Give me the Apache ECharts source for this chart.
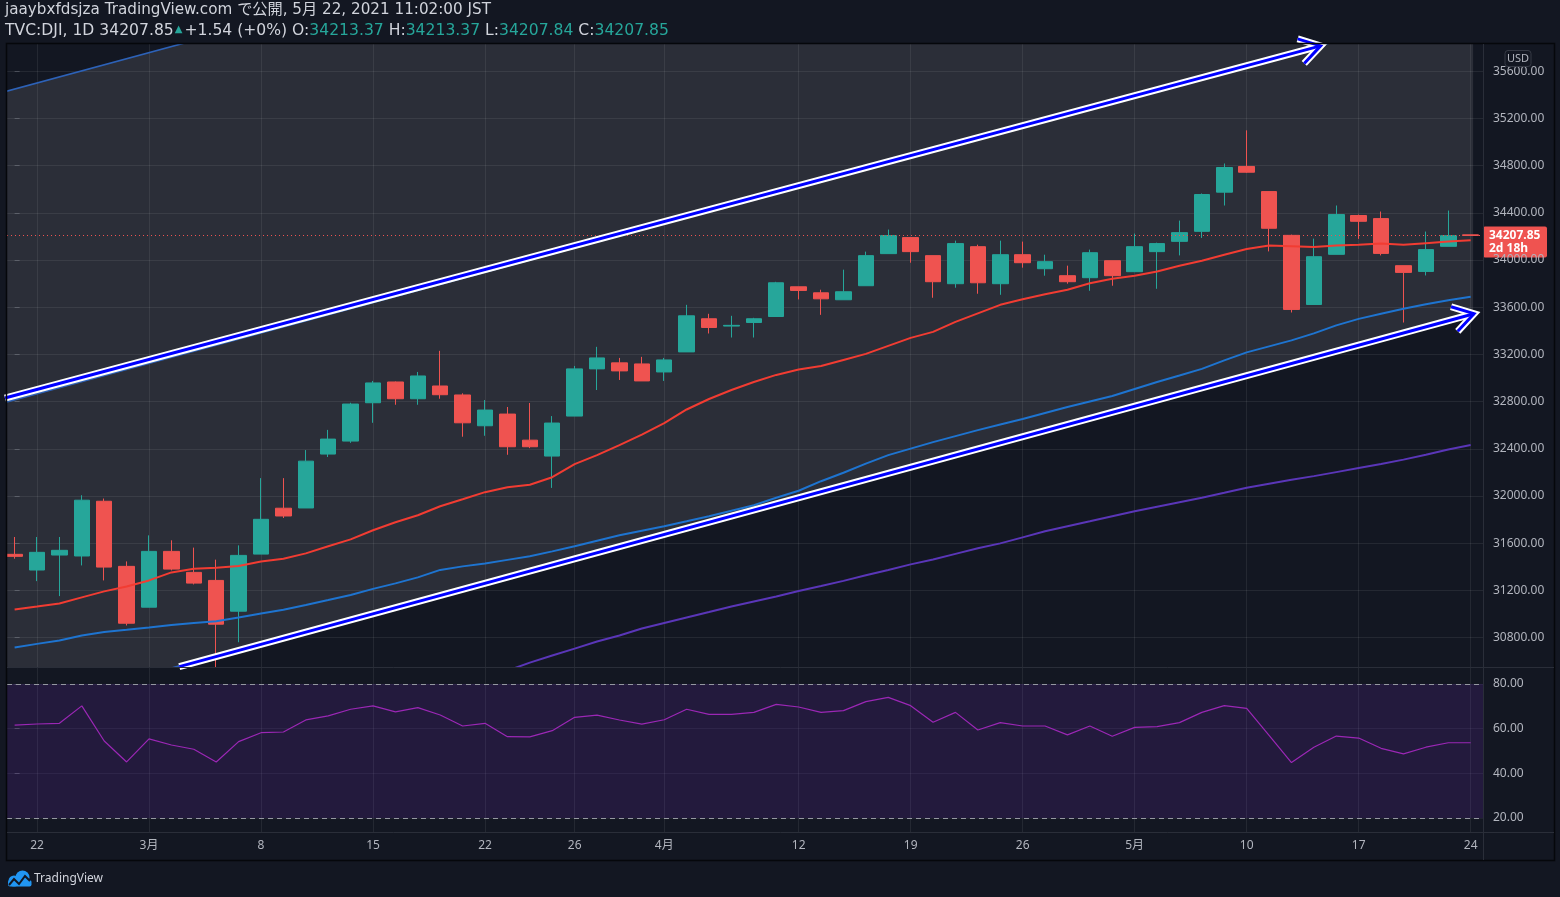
<!DOCTYPE html>
<html><head><meta charset="utf-8">
<script src="https://cdn.jsdelivr.net/npm/echarts@6/dist/echarts.min.js"></script>
<style>html,body{margin:0;padding:0;background:#131722;}#c{width:1560px;height:897px;}</style>
</head><body><div id="c"></div>
<script>
// ---------------- DATA ----------------
const dates = ['02-19','02-22','02-23','02-24','02-25','02-26','03-01','03-02','03-03','03-04','03-05','03-08','03-09','03-10','03-11','03-12','03-15','03-16','03-17','03-18','03-19','03-22','03-23','03-24','03-25','03-26','03-29','03-30','03-31','04-01','04-05','04-06','04-07','04-08','04-09','04-12','04-13','04-14','04-15','04-16','04-19','04-20','04-21','04-22','04-23','04-26','04-27','04-28','04-29','04-30','05-03','05-04','05-05','05-06','05-07','05-10','05-11','05-12','05-13','05-14','05-17','05-18','05-19','05-20','05-21','05-24'];
const opens  = [31505,31372,31499,31491,31955,31403,31057,31530,31352,31284,31023,31507,31896,31898,32355,32465,32790,32966,32824,32932,32856,32595,32694,32473,32338,32677,33077,33128,33119,33051,33221,33502,33440,33470,33521,33773,33722,33663,33782,34054,34190,34037,33799,34113,33799,34045,33926,33867,33850,33994,33901,34071,34158,34243,34575,34793,34580,34209,33623,34048,34377,34351,33952,33903,34116,34213.37];
const highs  = [31652,31652,31652,32006,31978,31445,31666,31624,31562,31460,31581,32151,32151,32389,32560,32790,32975,32970,33051,33230,32870,32813,32754,32788,32677,33102,33264,33170,33179,33170,33620,33544,33527,33510,33815,33773,33748,33918,34071,34258,34190,34037,34164,34130,34164,34156,34045,33952,34088,33994,34224,34147,34334,34564,34818,35099,34580,34215,34181,34462,34385,34411,33952,34241,34419,34213.37];
const lows   = [31468,31278,31151,31411,31284,30902,31057,31369,31250,30547,30760,31507,31813,31898,32330,32450,32620,32773,32773,32824,32502,32510,32349,32405,32068,32677,32898,32983,32975,32975,33221,33377,33343,33343,33521,33666,33535,33663,33782,34054,33977,33680,33765,33714,33705,33935,33867,33799,33739,33782,33901,33756,34039,34187,34462,34739,34073,33555,33623,34048,34179,34039,33470,33869,34116,34207.84];
const closes = [31488,31522,31539,31964,31397,30921,31530,31380,31261,30913,31496,31802,31830,32295,32482,32779,32958,32824,33017,32858,32620,32728,32417,32417,32618,33077,33170,33060,32975,33153,33527,33428,33446,33502,33807,33742,33671,33731,34037,34207,34071,33816,34139,33807,34045,33977,33986,33816,34062,33867,34113,34139,34232,34555,34784,34744,34269,33581,34028,34385,34328,34056,33895,34088,34206.31,34207.85];
const ma20 = [31038,31063,31089,31140,31191,31233,31284,31352,31382,31392,31407,31445,31468,31513,31573,31632,31709,31777,31836,31913,31972,32032,32074,32095,32159,32270,32346,32431,32520,32618,32733,32822,32898,32966,33026,33072,33102,33153,33204,33272,33340,33391,33476,33548,33620,33667,33710,33748,33803,33841,33867,33903,33952,33994,34045,34094,34122,34116,34110,34122,34130,34139,34130,34143,34156,34167];
const ma50 = [30715,30746,30774,30817,30847,30865,30885,30906,30923,30937,30970,31004,31035,31076,31118,31161,31212,31259,31310,31373,31403,31428,31458,31488,31530,31573,31620,31666,31705,31743,31785,31828,31875,31921,31985,32044,32125,32197,32274,32346,32401,32456,32507,32558,32605,32652,32703,32754,32801,32847,32907,32966,33021,33077,33149,33217,33268,33319,33378,33446,33501,33544,33586,33625,33659,33688];
const ma200 = [null,null,null,null,null,null,null,null,null,null,null,null,null,null,null,null,null,null,null,null,null,null,30519,30587,30647,30706,30766,30817,30876,30923,30970,31016,31063,31106,31148,31195,31237,31280,31327,31373,31420,31462,31509,31556,31598,31649,31700,31743,31785,31828,31870,31909,31947,31985,32027,32070,32104,32138,32168,32202,32236,32270,32308,32350,32393,32431];
const rsi = [61.6,62.1,62.4,70.2,54.5,45.1,55.4,52.7,50.8,45.1,54.2,58.2,58.5,63.9,65.7,68.7,70.2,67.5,69.4,66.1,61.2,62.4,56.4,56.3,59.1,65.1,66.1,63.9,62.0,64.0,68.7,66.4,66.4,67.3,70.9,69.7,67.3,68.1,72.1,74.0,70.3,62.9,67.3,59.4,62.7,61.2,61.2,57.2,61.2,56.6,60.6,60.9,62.7,67.3,70.3,69.1,57.0,44.8,51.7,56.7,55.8,51.2,48.7,51.7,53.7,53.7];
const xTickIdx = [1,6,11,16,21,25,29,35,40,45,50,55,60,65];
const xTickLabels = ['22','3月','8','15','22','26','4月','12','19','26','5月','10','17','24'];
const priceTicks = [30800,31200,31600,32000,32400,32800,33200,33600,34000,34400,34800,35200,35600];
const rsiTicks = [20,40,60,80];
const rsiBand = [20,80];
// parallel channel (bar index, price)
const channelX = [-1, 65.11];
const channelLower = [30129, 33535];
const channelMiddle = [32763, 36169];
const channelUpper = [35397, 38803];
// arrows (bar index, price)
const arrowUpX = [-0.43, 58.3], arrowUpY = [32830, 35815];
const arrowLowX = [7.35, 65.15],  arrowLowY = [30553, 33545];
const lastPrice = 34207.85;

// ---------------- CHART ----------------
const FONT = "'Noto Sans', 'Noto Sans CJK JP', sans-serif";
const HFONT = "'DejaVu Sans', 'Noto Sans CJK JP', sans-serif";
const GRID = 'rgba(255,255,255,0.075)';
const X_MIN = -0.34, X_MAX = 65.55;
const chart = echarts.init(document.getElementById('c'), null, {width:1560, height:897});

const candleData = dates.map((d,i)=>[i, opens[i], closes[i], lows[i], highs[i]]);
const toXY = arr => arr.map((v,i)=>[i, v]);

function arrowHead(tip, from, len, ang){
  const dx = from[0]-tip[0], dy = from[1]-tip[1], d = Math.hypot(dx,dy);
  const ux = dx/d, uy = dy/d, a = ang*Math.PI/180;
  const r = s => [tip[0] + len*(ux*Math.cos(s) - uy*Math.sin(s)), tip[1] + len*(ux*Math.sin(s) + uy*Math.cos(s))];
  return [r(a), tip, r(-a)];
}
function arrowEls(p0, p1){
  const head = arrowHead(p1, p0, 24, 32);
  const out = [];
  [['#ffffff',7],['#0000ff',3]].forEach(([c,w])=>{
    out.push({type:'line', shape:{x1:p0[0],y1:p0[1],x2:p1[0],y2:p1[1]}, style:{stroke:c, lineWidth:w}});
    out.push({type:'polyline', shape:{points:head}, style:{stroke:c, lineWidth:w, fill:null, lineJoin:'miter'}});
  });
  return out;
}

const option = {
  backgroundColor:'#131722',
  animation:false,
  grid:[{left:7, top:44, width:1476, height:623},{left:7, top:668, width:1476, height:164}],
  xAxis:[
    {type:'value', gridIndex:0, min:X_MIN, max:X_MAX, axisLine:{show:false},
     axisTick:{show:false, customValues:xTickIdx}, axisLabel:{show:false, customValues:xTickIdx},
     splitLine:{show:true, lineStyle:{color:GRID}}},
    {type:'value', gridIndex:1, min:X_MIN, max:X_MAX, axisLine:{show:false},
     axisTick:{show:false, customValues:xTickIdx},
     axisLabel:{show:true, customValues:xTickIdx, margin:8, color:'#b2b5be', fontSize:12, fontFamily:FONT,
       formatter:v=>xTickLabels[xTickIdx.indexOf(Math.round(v))] || ''},
     splitLine:{show:true, lineStyle:{color:GRID}}}
  ],
  yAxis:[
    {type:'value', gridIndex:0, position:'right', min:30550, max:35831, axisLine:{show:false},
     axisTick:{show:true, customValues:priceTicks, length:5, lineStyle:{color:'#4a4e59'}},
     axisLabel:{customValues:priceTicks, margin:10, color:'#b2b5be', fontSize:12, fontFamily:FONT, formatter:v=>v.toFixed(2)},
     splitLine:{show:true, lineStyle:{color:GRID}}},
    {type:'value', gridIndex:1, position:'right', min:13.73, max:87.17, axisLine:{show:false},
     axisTick:{show:true, customValues:rsiTicks, length:5, lineStyle:{color:'#4a4e59'}},
     axisLabel:{customValues:rsiTicks, margin:10, color:'#b2b5be', fontSize:12, fontFamily:FONT, formatter:v=>v.toFixed(2)},
     splitLine:{show:true, lineStyle:{color:'rgba(255,255,255,0.06)'}}}
  ],
  series:[
    {type:'custom', name:'channel', xAxisIndex:0, yAxisIndex:0, z:1, silent:true, clip:true, data:[[0,33000]],
     renderItem:(params, api)=>{
       const P = (x,y)=>api.coord([x,y]);
       const l0=P(channelX[0],channelLower[0]), l1=P(channelX[1],channelLower[1]);
       const m0=P(channelX[0],channelMiddle[0]), m1=P(channelX[1],channelMiddle[1]);
       const u0=P(channelX[0],channelUpper[0]), u1=P(channelX[1],channelUpper[1]);
       const ln=(a,b)=>({type:'line', shape:{x1:a[0],y1:a[1],x2:b[0],y2:b[1]}, style:{stroke:'#2d62b8', lineWidth:1.6}});
       const cs = params.coordSys;
       return {type:'group', clipPath:{type:'rect', shape:{x:cs.x, y:cs.y, width:cs.width, height:cs.height}}, children:[
         {type:'polygon', shape:{points:[l0,l1,u1,u0]}, style:{fill:'rgba(255,255,255,0.10)'}},
         ln(l0,l1), ln(m0,m1), ln(u0,u1)
       ]};
     }},
    {type:'candlestick', name:'DJI', xAxisIndex:0, yAxisIndex:0, z:3, data:candleData, barWidth:16,
     itemStyle:{color:'#26a69a', color0:'#ef5350', borderColor:'#26a69a', borderColor0:'#ef5350', borderColorDoji:'#ef5350', borderWidth:1},
     markLine:{silent:true, symbol:'none', label:{show:false}, lineStyle:{color:'#ef5350', type:[1,3], width:1},
       data:[{yAxis:lastPrice}]}},
    {type:'line', name:'MA20', xAxisIndex:0, yAxisIndex:0, z:4, data:toXY(ma20), showSymbol:false, lineStyle:{color:'#f23c32', width:2}},
    {type:'line', name:'MA50', xAxisIndex:0, yAxisIndex:0, z:4, data:toXY(ma50), showSymbol:false, lineStyle:{color:'#1e74d0', width:2}},
    {type:'line', name:'MA200', xAxisIndex:0, yAxisIndex:0, z:4, data:toXY(ma200), showSymbol:false, lineStyle:{color:'#5a36b8', width:2}},
    {type:'custom', name:'arrows', xAxisIndex:0, yAxisIndex:0, z:6, silent:true, clip:false, data:[[0,33000]],
     renderItem:(params, api)=>{
       const a0=api.coord([arrowUpX[0],arrowUpY[0]]), a1=api.coord([arrowUpX[1],arrowUpY[1]]);
       const b0=api.coord([arrowLowX[0],arrowLowY[0]]), b1=api.coord([arrowLowX[1],arrowLowY[1]]);
       return {type:'group', children:[...arrowEls(a0,a1), ...arrowEls(b0,b1)]};
     }},
    {type:'line', name:'RSI', xAxisIndex:1, yAxisIndex:1, z:4, data:toXY(rsi), showSymbol:false, lineStyle:{color:'#9b27b5', width:1.2},
     markArea:{silent:true, itemStyle:{color:'rgba(126,50,220,0.15)'}, data:[[{yAxis:rsiBand[0]},{yAxis:rsiBand[1]}]]},
     markLine:{silent:true, symbol:'none', label:{show:false}, lineStyle:{color:'#9598a1', type:[5,4], width:1},
       data:[{yAxis:rsiBand[1]},{yAxis:rsiBand[0]}]}}
  ]
};
chart.setOption(option);

const yTag = chart.convertToPixel({yAxisIndex:0}, lastPrice);
const T = '#d1d4dc', G = '#26a69a';
chart.setOption({graphic:[
  {type:'rect', z:50, silent:true, shape:{x:6.5, y:43.5, width:1548, height:817}, style:{fill:null, stroke:'#05070b', lineWidth:1.5}},
  {type:'line', z:50, silent:true, shape:{x1:7, y1:667.5, x2:1554, y2:667.5}, style:{stroke:'#2a2e39', lineWidth:1}},
  {type:'line', z:50, silent:true, shape:{x1:7, y1:832.5, x2:1554, y2:832.5}, style:{stroke:'#2a2e39', lineWidth:1}},
  {type:'line', z:50, silent:true, shape:{x1:1483.5, y1:44, x2:1483.5, y2:860}, style:{stroke:'#2a2e39', lineWidth:1}},
  {type:'text', z:60, x:5, y:10, style:{text:'jaaybxfdsjza TradingView.com で公開, 5月 22, 2021 11:02:00 JST', fill:T, font:'15.2px '+HFONT, verticalAlign:'middle'}},
  {type:'text', z:60, x:5, y:31, style:{
    text:'{w|TVC:DJI, 1D 34207.85}{s|▲}{w|+1.54 (+0%) O:}{g|34213.37}{w| H:}{g|34213.37}{w| L:}{g|34207.84}{w| C:}{g|34207.85}',
    verticalAlign:'middle', font:'15.6px '+HFONT,
    rich:{w:{fill:T, fontSize:15.6, fontFamily:HFONT}, g:{fill:G, fontSize:15.6, fontFamily:HFONT}, s:{fill:G, fontSize:10, fontFamily:HFONT, padding:[0,2,4,1]}}}},
  {type:'rect', z:60, shape:{x:1505, y:50.5, width:26, height:16, r:3}, style:{fill:'#131722', stroke:'#363a45', lineWidth:1}},
  {type:'text', z:61, x:1518, y:58.5, style:{text:'USD', fill:'#b2b5be', font:'11px '+FONT, align:'center', verticalAlign:'middle'}},
  {type:'group', z:60, x:1483, y:yTag-9, children:[
    {type:'rect', shape:{x:0, y:0, width:64, height:31, r:2}, style:{fill:'#ef5350'}},
    {type:'text', x:6, y:9, style:{text:'34207.85', fill:'#ffffff', font:'bold 12px '+FONT, verticalAlign:'middle'}},
    {type:'text', x:6, y:22, style:{text:'2d 18h', fill:'#ffffff', font:'bold 12px '+FONT, verticalAlign:'middle'}}
  ]},
  {type:'circle', z:60, shape:{cx:14, cy:881, r:5.5}, style:{fill:'#2196f3'}},
  {type:'circle', z:60, shape:{cx:22.5, cy:877.5, r:7}, style:{fill:'#2196f3'}},
  {type:'rect', z:60, shape:{x:8, y:880, width:23.5, height:6.5, r:2}, style:{fill:'#2196f3'}},
  {type:'polyline', z:61, shape:{points:[[9,885],[14,879],[19,884],[25,876],[30,881]]}, style:{stroke:'#131722', lineWidth:2, fill:null}},
  {type:'text', z:60, x:34, y:879, style:{text:'TradingView', fill:T, font:'12px '+FONT, verticalAlign:'middle'}}
]});
</script></body></html>
